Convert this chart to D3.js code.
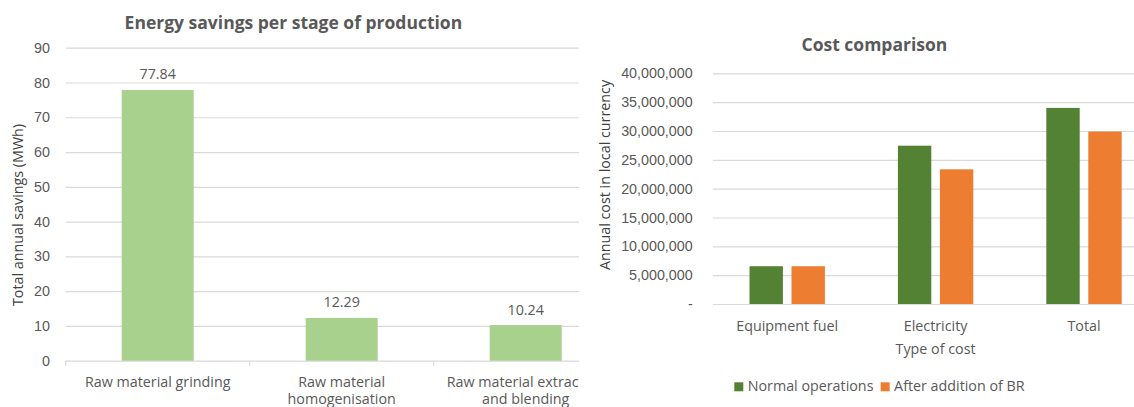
<!DOCTYPE html>
<html>
<head>
<meta charset="utf-8">
<script src="https://cdn.jsdelivr.net/npm/d3@7"></script>
<style>
  html, body { margin: 0; padding: 0; background: #ffffff; }
  svg { display: block; font-family: "Open Sans", "Noto Sans", sans-serif; }
  .tick text { fill: #595959; font-size: 14.3px; }
  .title { fill: #595959; font-size: 17.5px; font-weight: bold; }
  .axis-title { fill: #404040; font-size: 14.3px; }
  .cat { fill: #595959; font-size: 14.3px; }
</style>
</head>
<body>
<svg id="chart" width="1134" height="407"></svg>
<script>
// Energy savings per stage of production (MWh per year)
const stages = [
  "Raw material grinding",
  "Raw material homogenisation",
  "Raw material extraction and blending"
];
const stageLabelLines = [
  ["Raw material grinding"],
  ["Raw material", "homogenisation"],
  ["Raw material extraction", "and blending"]
];
const savingsMWh = [77.84, 12.29, 10.24];
const savingsTicks = [0, 10, 20, 30, 40, 50, 60, 70, 80, 90];

// Cost comparison (annual cost in local currency)
const costTypes = ["Equipment fuel", "Electricity", "Total"];
const seriesNames = ["Normal operations", "After addition of BR"];
const normalOperations = [6550000, 27450000, 34000000];
const afterAdditionOfBR = [6550000, 23350000, 29900000];
const costTicks = [0, 5000000, 10000000, 15000000, 20000000, 25000000, 30000000, 35000000, 40000000];

const seriesColors = ["#548235", "#ED7D31"];
const gridColor = "#D9D9D9";

const svg = d3.select("#chart");
svg.append("rect").attr("width", 1134).attr("height", 407).attr("fill", "#ffffff");

const defs = svg.append("defs");
defs.append("clipPath").attr("id", "clipLeft")
  .append("rect").attr("x", 0).attr("y", 0).attr("width", 579).attr("height", 407);
defs.append("clipPath").attr("id", "clipRight")
  .append("rect").attr("x", 580).attr("y", 0).attr("width", 554).attr("height", 407);

/* ---------- Left panel: energy savings ---------- */
const left = svg.append("g").attr("clip-path", "url(#clipLeft)");

const xL = d3.scaleBand().domain(stages).range([65.7, 617.7])
  .paddingInner(0.6087).paddingOuter(0.30435);
const yL = d3.scaleLinear().domain([0, 90]).range([360.7, 47.7]);

left.append("g")
  .attr("transform", "translate(65.7,0)")
  .call(d3.axisLeft(yL).tickValues(savingsTicks).tickSize(-552).tickPadding(15.7))
  .call(g => g.select(".domain").remove())
  .call(g => g.selectAll(".tick line").attr("stroke", gridColor).attr("stroke-width", 1.2));

// category boundary ticks under the baseline
const stepL = xL.step();
const boundaries = stages.map(d => xL(d) - stepL * xL.paddingOuter())
  .concat([xL(stages[stages.length - 1]) - stepL * xL.paddingOuter() + stepL]);
left.selectAll("line.boundary").data(boundaries).join("line")
  .attr("class", "boundary")
  .attr("x1", d => d).attr("x2", d => d)
  .attr("y1", yL(0)).attr("y2", yL(0) + 5)
  .attr("stroke", gridColor).attr("stroke-width", 1.2);

left.selectAll("rect.bar").data(savingsMWh).join("rect")
  .attr("class", "bar")
  .attr("x", (d, i) => xL(stages[i]))
  .attr("width", xL.bandwidth())
  .attr("y", d => yL(d))
  .attr("height", d => yL(0) - yL(d))
  .attr("fill", "#A9D18E");

left.selectAll("text.value").data(savingsMWh).join("text")
  .attr("class", "cat value")
  .attr("text-anchor", "middle")
  .attr("x", (d, i) => xL(stages[i]) + xL.bandwidth() / 2)
  .attr("y", d => yL(d) - 10.5)
  .text(d => d3.format(".2f")(d));

const catL = left.selectAll("text.stage").data(stages).join("text")
  .attr("class", "cat stage")
  .attr("text-anchor", "middle")
  .attr("x", d => xL(d) + xL.bandwidth() / 2)
  .attr("y", 386.5);
catL.selectAll("tspan").data((d, i) => stageLabelLines[i]).join("tspan")
  .attr("x", function () { return d3.select(this.parentNode).attr("x"); })
  .attr("dy", (d, j) => j === 0 ? 0 : 17)
  .text(d => d);

left.append("text").attr("class", "title")
  .attr("text-anchor", "middle")
  .attr("x", 293.4).attr("y", 29.3)
  .text("Energy savings per stage of production");

left.append("text").attr("class", "axis-title")
  .attr("text-anchor", "middle")
  .attr("transform", "translate(22.5,215) rotate(-90)")
  .text("Total annual savings (MWh)");

/* ---------- Right panel: cost comparison ---------- */
const right = svg.append("g").attr("clip-path", "url(#clipRight)");

const x0 = d3.scaleBand().domain(costTypes).range([713, 1158.2])
  .paddingInner(0.492).paddingOuter(0.246);
const x1 = d3.scaleBand().domain(seriesNames).range([0, x0.bandwidth()])
  .paddingInner(0.205);
const yR = d3.scaleLinear().domain([0, 40000000]).range([304, 73.3]);

const commaFmt = d3.format(",");
right.append("g")
  .attr("transform", "translate(713,0)")
  .call(d3.axisLeft(yR).tickValues(costTicks).tickSize(-445.2).tickPadding(20.3)
    .tickFormat(d => d === 0 ? "-" : commaFmt(d)))
  .call(g => g.select(".domain").remove())
  .call(g => g.selectAll(".tick line").attr("stroke", gridColor).attr("stroke-width", 1.2));

const seriesValues = [normalOperations, afterAdditionOfBR];
const groups = right.selectAll("g.group").data(costTypes).join("g")
  .attr("class", "group")
  .attr("transform", d => `translate(${x0(d)},0)`);
groups.selectAll("rect").data((d, i) => seriesNames.map((s, k) => ({ s, k, v: seriesValues[k][i] })))
  .join("rect")
  .attr("x", d => x1(d.s))
  .attr("width", x1.bandwidth())
  .attr("y", d => yR(d.v))
  .attr("height", d => yR(0) - yR(d.v))
  .attr("fill", d => seriesColors[d.k]);

right.selectAll("text.costType").data(costTypes).join("text")
  .attr("class", "cat costType")
  .attr("text-anchor", "middle")
  .attr("x", d => x0(d) + x0.bandwidth() / 2)
  .attr("y", 330.7)
  .text(d => d);

right.append("text").attr("class", "cat")
  .attr("text-anchor", "middle")
  .attr("x", 935.6).attr("y", 354)
  .text("Type of cost");

right.append("text").attr("class", "title")
  .attr("text-anchor", "middle")
  .attr("x", 874.4).attr("y", 50.7)
  .text("Cost comparison");

right.append("text").attr("class", "axis-title")
  .attr("text-anchor", "middle")
  .attr("transform", "translate(610,175) rotate(-90)")
  .text("Annual cost in local currency");

// legend
const legendX = [734.3, 880.7];
const legend = right.selectAll("g.legend").data(seriesNames).join("g")
  .attr("class", "legend")
  .attr("transform", (d, i) => `translate(${legendX[i]},382.3)`);
legend.append("rect").attr("width", 9).attr("height", 9)
  .attr("fill", (d, i) => seriesColors[i]);
legend.append("text").attr("class", "cat")
  .attr("x", 13.4).attr("y", 9)
  .text(d => d);
</script>
</body>
</html>
